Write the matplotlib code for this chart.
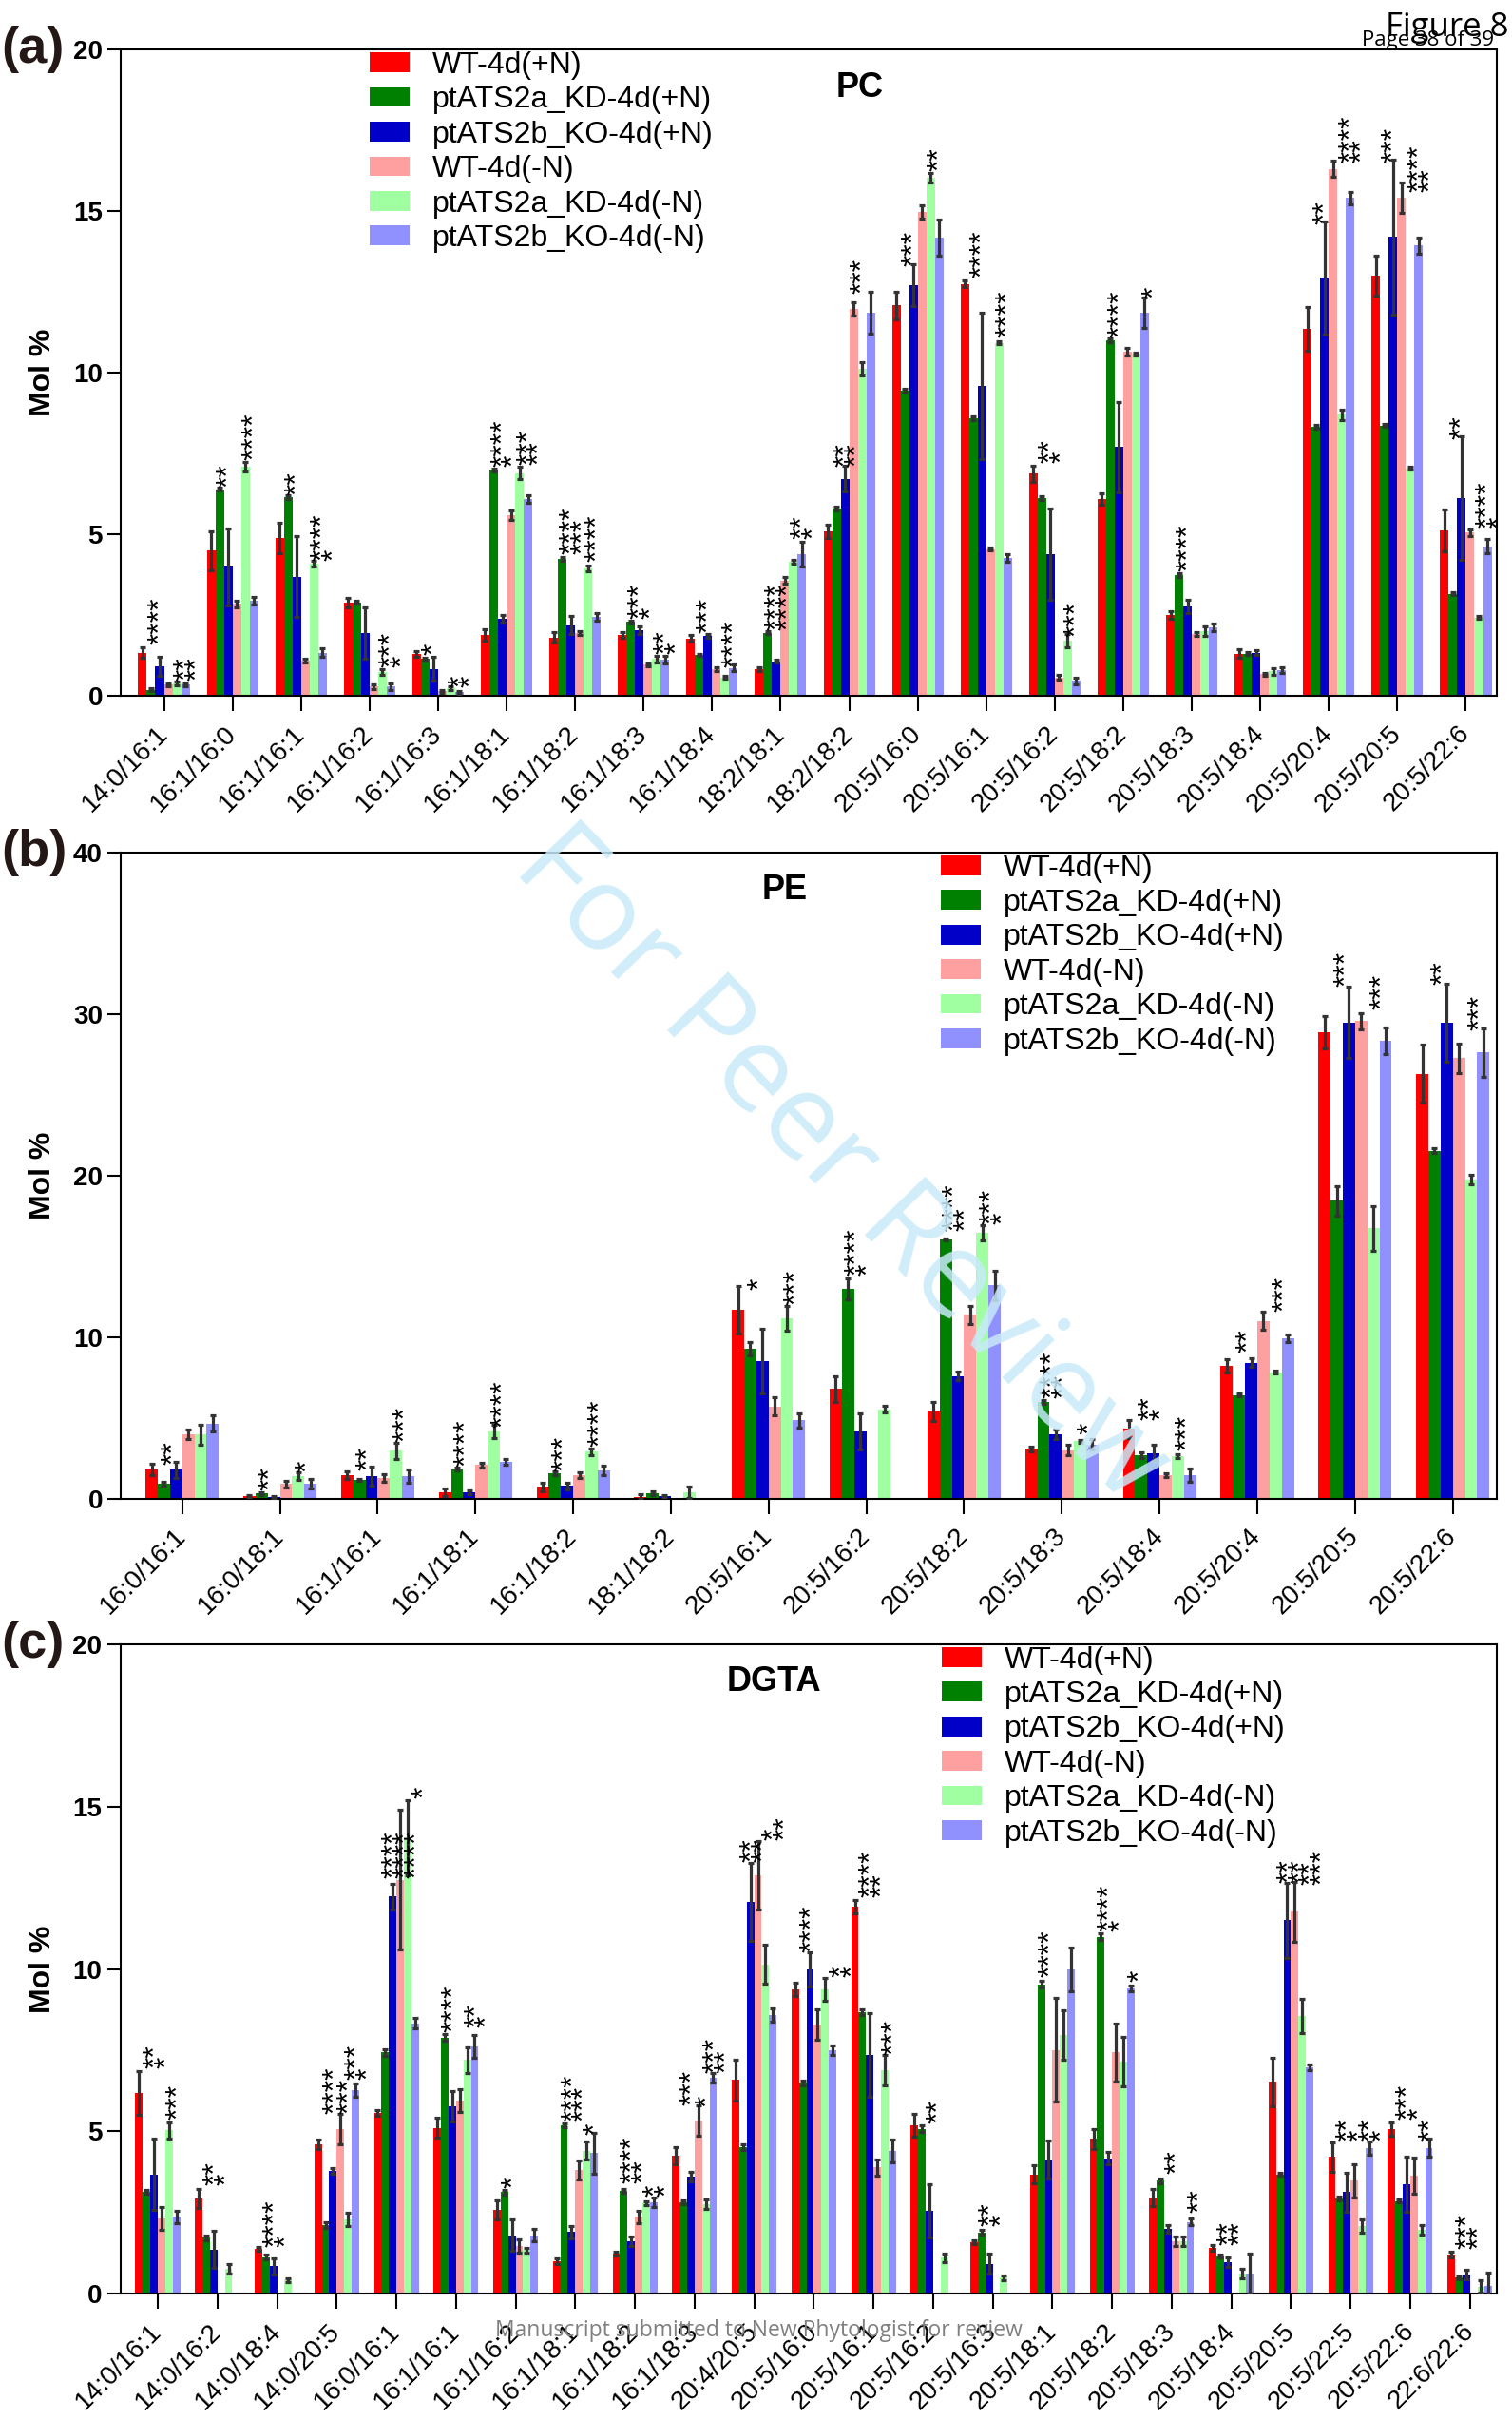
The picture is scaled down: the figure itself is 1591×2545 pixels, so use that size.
import numpy as np
import matplotlib.pyplot as plt
from matplotlib.transforms import ScaledTranslation

plt.rcParams['font.family'] = ['Liberation Sans', 'DejaVu Sans']

nan = np.nan
series = ['WT-4d(+N)', 'ptATS2a_KD-4d(+N)', 'ptATS2b_KO-4d(+N)',
          'WT-4d(-N)', 'ptATS2a_KD-4d(-N)', 'ptATS2b_KO-4d(-N)']
colors = ['#ff0000', '#008000', '#0000c8', '#ffa0a0', '#a0ffa0', '#9090ff']

# ---------------- (a) PC ----------------
pc_species = ['14:0/16:1', '16:1/16:0', '16:1/16:1', '16:1/16:2', '16:1/16:3',
              '16:1/18:1', '16:1/18:2', '16:1/18:3', '16:1/18:4', '18:2/18:1',
              '18:2/18:2', '20:5/16:0', '20:5/16:1', '20:5/16:2', '20:5/18:2',
              '20:5/18:3', '20:5/18:4', '20:5/20:4', '20:5/20:5', '20:5/22:6']
pc_wt_pn = [1.35, 4.5, 4.9, 2.9, 1.3, 1.9, 1.82, 1.9, 1.78, 0.84, 5.1, 12.08, 12.75, 6.88, 6.1, 2.5, 1.32, 11.36, 13.0, 5.13]
pc_kd_pn = [0.2, 6.4, 6.15, 2.9, 1.15, 7.0, 4.25, 2.3, 1.28, 1.96, 5.8, 9.45, 8.6, 6.13, 11.0, 3.75, 1.32, 8.33, 8.37, 3.17]
pc_ko_pn = [0.92, 4.0, 3.7, 1.95, 0.85, 2.4, 2.2, 2.05, 1.86, 1.08, 6.72, 12.7, 9.6, 4.39, 7.7, 2.77, 1.35, 12.93, 14.2, 6.13]
pc_wt_mn = [0.36, 2.85, 1.1, 0.3, 0.15, 5.6, 1.95, 0.97, 0.84, 3.58, 11.97, 14.98, 4.55, 0.58, 10.66, 1.92, 0.68, 16.3, 15.4, 5.06]
pc_kd_mn = [0.4, 7.1, 4.1, 0.75, 0.25, 6.9, 3.95, 1.15, 0.58, 4.16, 10.12, 16.02, 10.93, 1.71, 10.58, 2.02, 0.77, 8.7, 7.05, 2.43]
pc_ko_mn = [0.36, 2.95, 1.35, 0.3, 0.12, 6.1, 2.45, 1.12, 0.88, 4.39, 11.85, 14.17, 4.28, 0.47, 11.85, 2.12, 0.81, 15.4, 13.93, 4.64]
pc_wt_pn_err = [0.17, 0.6, 0.47, 0.15, 0.08, 0.18, 0.15, 0.08, 0.1, 0.05, 0.2, 0.42, 0.1, 0.25, 0.18, 0.12, 0.12, 0.67, 0.62, 0.64]
pc_kd_pn_err = [0.05, 0.05, 0.05, 0.05, 0.04, 0.05, 0.05, 0.04, 0.04, 0.05, 0.05, 0.05, 0.05, 0.05, 0.05, 0.05, 0.05, 0.05, 0.05, 0.05]
pc_ko_pn_err = [0.3, 1.2, 1.25, 0.8, 0.37, 0.12, 0.27, 0.12, 0.06, 0.05, 0.4, 0.65, 2.26, 1.4, 1.4, 0.2, 0.06, 1.75, 2.4, 1.9]
pc_wt_mn_err = [0.05, 0.1, 0.07, 0.08, 0.05, 0.15, 0.07, 0.04, 0.05, 0.1, 0.2, 0.2, 0.05, 0.08, 0.12, 0.05, 0.05, 0.25, 0.47, 0.1]
pc_kd_mn_err = [0.05, 0.15, 0.1, 0.1, 0.05, 0.2, 0.1, 0.1, 0.05, 0.05, 0.2, 0.15, 0.05, 0.2, 0.05, 0.15, 0.1, 0.15, 0.05, 0.05]
pc_ko_mn_err = [0.05, 0.12, 0.13, 0.1, 0.05, 0.12, 0.12, 0.12, 0.1, 0.38, 0.64, 0.56, 0.12, 0.1, 0.47, 0.12, 0.08, 0.2, 0.25, 0.22]
# (category, bar slot, y, asterisks; '\n' separates columns)
pc_stars = [(0, 1, 1.6, '****'), (0, 4, 0.47, '**\n**'), (1, 1, 6.45, '**'), (1, 4, 7.3, '****'),
            (2, 1, 6.2, '**'), (2, 4, 4.2, '****\n*'), (3, 4, 0.9, '***\n*'), (4, 1, 1.28, '*'),
            (4, 4, 0.28, '*\n*'), (5, 1, 7.1, '****\n*'), (5, 4, 7.15, '***\n**'),
            (6, 1, 4.4, '****\n***'), (6, 4, 4.15, '****'), (7, 1, 2.4, '***\n*'), (7, 4, 1.3, '**\n*'),
            (8, 1, 1.95, '***'), (8, 4, 0.9, '****'), (9, 1, 2.05, '****\n****'), (9, 4, 4.85, '**\n*'),
            (10, 1, 7.1, '**\n**'), (10, 3, 12.45, '***'), (11, 1, 13.3, '***'), (11, 4, 16.25, '**'),
            (12, 1, 12.95, '****'), (12, 4, 11.1, '****'), (13, 1, 7.2, '**\n*'), (13, 4, 1.85, '***'),
            (14, 1, 11.1, '****'), (14, 5, 12.3, '*'), (15, 1, 3.85, '****'), (17, 1, 14.6, '**'),
            (17, 4, 16.5, '****\n**'), (18, 1, 16.5, '***'), (18, 4, 15.6, '****\n**'),
            (19, 1, 7.95, '**'), (19, 4, 5.2, '****\n*')]

# ---------------- (b) PE ----------------
pe_species = ['16:0/16:1', '16:0/18:1', '16:1/16:1', '16:1/18:1', '16:1/18:2', '18:1/18:2',
              '20:5/16:1', '20:5/16:2', '20:5/18:2', '20:5/18:3', '20:5/18:4', '20:5/20:4',
              '20:5/20:5', '20:5/22:6']
pe_wt_pn = [1.84, 0.19, 1.46, 0.4, 0.73, 0.13, 11.7, 6.8, 5.4, 3.1, 4.32, 8.23, 28.88, 26.29]
pe_kd_pn = [0.94, 0.32, 1.16, 1.84, 1.57, 0.35, 9.28, 13.0, 16.06, 6.0, 2.7, 6.42, 18.43, 21.54]
pe_ko_pn = [1.81, 0.13, 1.4, 0.4, 0.81, 0.19, 8.53, 4.18, 7.6, 3.97, 2.83, 8.42, 29.47, 29.47]
pe_wt_mn = [3.97, 0.92, 1.3, 2.1, 1.46, nan, 5.72, nan, 11.39, 3.02, 1.46, 11.0, 29.55, 27.26]
pe_kd_mn = [3.97, 1.4, 2.97, 4.18, 2.91, 0.4, 11.17, 5.53, 16.46, 3.56, 2.65, 7.83, 16.73, 19.76]
pe_ko_mn = [4.64, 0.92, 1.4, 2.29, 1.78, nan, 4.86, nan, 13.2, 3.37, 1.46, 9.93, 28.34, 27.61]
pe_wt_pn_err = [0.35, 0.05, 0.25, 0.25, 0.25, 0.15, 1.45, 0.8, 0.6, 0.15, 0.55, 0.4, 1.0, 1.8]
pe_kd_pn_err = [0.1, 0.1, 0.05, 0.1, 0.1, 0.1, 0.4, 0.65, 0.05, 0.1, 0.2, 0.1, 0.9, 0.15]
pe_ko_pn_err = [0.5, 0.05, 0.6, 0.1, 0.2, 0.05, 2.0, 1.1, 0.25, 0.3, 0.5, 0.25, 2.2, 2.4]
pe_wt_mn_err = [0.3, 0.2, 0.25, 0.15, 0.2, nan, 0.55, nan, 0.55, 0.3, 0.1, 0.55, 0.5, 0.9]
pe_kd_mn_err = [0.6, 0.25, 0.5, 0.4, 0.2, 0.35, 0.75, 0.2, 0.45, 0.1, 0.1, 0.1, 1.4, 0.3]
pe_ko_mn_err = [0.5, 0.3, 0.4, 0.2, 0.3, nan, 0.45, nan, 0.9, 0.3, 0.4, 0.25, 0.8, 1.5]
pe_stars = [(0, 1, 2.1, '**'), (1, 1, 0.55, '**'), (1, 4, 1.65, '*'), (2, 1, 1.75, '**'),
            (2, 4, 3.55, '***'), (3, 1, 2.0, '****'), (3, 4, 4.4, '****'), (4, 1, 1.7, '***'),
            (4, 4, 3.25, '****'), (6, 1, 12.9, '*'), (6, 4, 12.0, '***'), (7, 1, 13.8, '****\n*'),
            (8, 1, 16.6, '****\n**'), (8, 4, 17.0, '***\n*'), (9, 1, 6.2, '****\n**'), (9, 4, 4.0, '*'),
            (10, 1, 4.85, '**\n*'), (10, 4, 3.0, '***'), (11, 1, 9.05, '**'), (11, 4, 11.6, '***'),
            (12, 1, 31.7, '***'), (12, 4, 30.3, '***'), (13, 1, 31.8, '**'), (13, 4, 29.0, '***')]

# ---------------- (c) DGTA ----------------
dg_species = ['14:0/16:1', '14:0/16:2', '14:0/18:4', '14:0/20:5', '16:0/16:1', '16:1/16:1',
              '16:1/16:2', '16:1/18:1', '16:1/18:2', '16:1/18:3', '20:4/20:5', '20:5/16:0',
              '20:5/16:1', '20:5/16:2', '20:5/16:3', '20:5/18:1', '20:5/18:2', '20:5/18:3',
              '20:5/18:4', '20:5/20:5', '20:5/22:5', '20:5/22:6', '22:6/22:6']
dg_wt_pn = [6.19, 2.94, 1.39, 4.61, 5.57, 5.11, 2.59, 1.0, 1.24, 4.26, 6.58, 9.37, 11.92, 5.19, 1.59, 3.68, 4.77, 2.97, 1.42, 6.53, 4.21, 5.08, 1.21]
dg_kd_pn = [3.14, 1.73, 1.13, 2.12, 7.43, 7.89, 3.13, 5.19, 3.17, 2.82, 4.52, 6.5, 8.67, 5.08, 1.89, 9.52, 10.99, 3.48, 1.16, 3.68, 2.94, 2.86, 0.5]
dg_ko_pn = [3.68, 1.36, 0.85, 3.78, 12.23, 5.77, 1.81, 1.9, 1.63, 3.61, 12.07, 9.98, 7.35, 2.55, 0.93, 4.13, 4.18, 2.01, 0.98, 11.5, 3.13, 3.37, 0.59]
dg_wt_mn = [2.32, nan, nan, 5.08, 12.74, 5.96, 1.47, 3.82, 2.37, 5.34, 12.88, 8.28, 3.9, nan, nan, 7.51, 7.43, 1.63, nan, 11.76, 3.48, 3.64, nan]
dg_kd_mn = [5.03, 0.77, 0.42, 2.29, 14.04, 7.2, 1.35, 4.41, 2.79, 2.76, 10.14, 9.37, 6.89, 1.11, 0.5, 7.97, 7.15, 1.63, 0.62, 8.56, 2.09, 1.97, 0.23]
dg_ko_mn = [2.37, nan, nan, 6.27, 8.33, 7.62, 1.81, 4.33, 2.83, 6.66, 8.59, 7.51, 4.41, nan, nan, 9.98, 9.4, 2.21, 0.62, 6.97, 4.49, 4.49, 0.26]
dg_wt_pn_err = [0.67, 0.3, 0.07, 0.15, 0.1, 0.3, 0.3, 0.08, 0.07, 0.27, 0.62, 0.2, 0.2, 0.35, 0.07, 0.28, 0.3, 0.27, 0.08, 0.75, 0.45, 0.2, 0.08]
dg_kd_pn_err = [0.05, 0.07, 0.07, 0.08, 0.1, 0.1, 0.07, 0.05, 0.07, 0.05, 0.08, 0.07, 0.1, 0.1, 0.07, 0.1, 0.1, 0.08, 0.05, 0.05, 0.05, 0.05, 0.05]
dg_ko_pn_err = [1.1, 0.57, 0.25, 0.08, 0.4, 0.47, 0.47, 0.2, 0.15, 0.15, 1.2, 0.52, 1.28, 0.82, 0.3, 0.58, 0.2, 0.12, 0.15, 1.15, 0.6, 0.85, 0.15]
dg_wt_mn_err = [0.35, nan, nan, 0.47, 2.15, 0.35, 0.2, 0.3, 0.2, 0.47, 1.05, 0.47, 0.25, nan, nan, 1.6, 0.9, 0.15, nan, 0.93, 0.5, 0.55, nan]
dg_kd_mn_err = [0.25, 0.15, 0.07, 0.2, 1.15, 0.4, 0.07, 0.27, 0.07, 0.15, 0.6, 0.35, 0.47, 0.12, 0.07, 0.76, 0.75, 0.15, 0.15, 0.52, 0.2, 0.15, 0.2]
dg_ko_mn_err = [0.2, nan, nan, 0.2, 0.15, 0.35, 0.2, 0.62, 0.15, 0.15, 0.2, 0.15, 0.35, nan, nan, 0.67, 0.1, 0.1, 0.62, 0.08, 0.2, 0.28, 0.4]
dg_stars = [(0, 1, 6.95, '**\n*'), (0, 4, 5.35, '***'), (1, 1, 3.35, '**\n*'), (2, 1, 1.45, '****\n*'),
            (3, 1, 5.55, '****'), (3, 3, 5.55, '***'), (3, 4, 6.6, '***\n*'),
            (4, 1, 12.8, '****\n****\n****'), (4, 5, 15.25, '*'), (5, 1, 8.05, '****'),
            (5, 4, 8.2, '**\n*'), (6, 1, 3.25, '*'), (7, 1, 5.3, '****\n***'), (7, 4, 4.9, '*'),
            (8, 1, 3.4, '****\n**'), (8, 4, 3.0, '*\n*'), (9, 1, 5.8, '***'), (9, 3, 5.75, '*'),
            (9, 4, 6.8, '***\n**'), (10, 1, 13.3, '**\n**'), (10, 4, 13.95, '*\n**'),
            (11, 1, 10.5, '****'), (11, 5, 9.75, '*\n*'), (12, 1, 12.2, '****\n**'), (12, 4, 7.35, '***'),
            (13, 2, 5.25, '**'), (14, 1, 2.1, '**\n*'), (15, 1, 9.75, '****'), (16, 1, 11.15, '****\n*'),
            (16, 5, 9.6, '*'), (17, 2, 3.7, '**'), (17, 5, 2.5, '**'), (18, 1, 1.5, '**\n**'),
            (19, 1, 12.65, '**\n**'), (19, 4, 12.6, '**\n***'), (20, 1, 4.7, '**\n*'), (20, 4, 4.7, '**\n*'),
            (21, 1, 5.35, '***\n*'), (21, 4, 4.7, '**'), (22, 1, 1.4, '***\n**')]

fig = plt.figure(figsize=(15.91, 25.45), dpi=100)
bw = 0.125


def draw_panel(ax, species, means, errs, stars, ymax, yticks, title, title_xy, leg_x):
    x = np.arange(len(species))
    for i, (m, e) in enumerate(zip(means, errs)):
        pos = x + (i - 2.5) * bw
        ax.bar(pos, m, width=bw, color=colors[i], label=series[i], zorder=2)
        ax.errorbar(pos, m, yerr=e, fmt='none', ecolor='#333333', elinewidth=2.3,
                    capsize=2.3, capthick=2.3, zorder=3)
    fs = 23
    for g, s, y, txt in stars:
        for k, col in enumerate(txt.split('\n')):
            off = ScaledTranslation((0.58 * fs + 8.5 * k) / 72, 0, fig.dpi_scale_trans)
            ax.text(g + (s - 2.5) * bw, y, col, rotation=90, rotation_mode='anchor',
                    ha='left', va='baseline', fontsize=fs, transform=ax.transData + off, zorder=4)
    ax.set_xlim(-0.625, len(species) - 1 + 0.45)
    ax.set_ylim(0, ymax)
    ax.set_yticks(yticks)
    ax.set_yticklabels([str(t) for t in yticks], fontsize=20, fontweight='bold')
    ax.set_xticks(x)
    ax.set_xticklabels(species, rotation=45, ha='right', va='center',
                       rotation_mode='anchor', fontsize=20)
    ax.tick_params(axis='x', length=11.5, width=1.5, pad=14)
    ax.tick_params(axis='y', length=10, width=1.5, pad=4)
    for sp in ax.spines.values():
        sp.set_linewidth(1.5)
    ax.set_ylabel('Mol %', fontsize=23, fontweight='bold', labelpad=12)
    ax.text(title_xy[0], title_xy[1], title, transform=ax.transAxes, ha='center', va='center',
            fontsize=26, fontweight='bold')
    ax.legend(loc='upper left', bbox_to_anchor=(leg_x, 0.997), frameon=False, fontsize=23,
              handlelength=1.3, handleheight=0.62, handletextpad=0.75, labelspacing=0.2,
              borderpad=0, borderaxespad=0)


ax_a = fig.add_axes([0.0801, 0.7122, 0.9098, 0.2674])
draw_panel(ax_a, pc_species,
           [pc_wt_pn, pc_kd_pn, pc_ko_pn, pc_wt_mn, pc_kd_mn, pc_ko_mn],
           [pc_wt_pn_err, pc_kd_pn_err, pc_ko_pn_err, pc_wt_mn_err, pc_kd_mn_err, pc_ko_mn_err],
           pc_stars, 20, [0, 5, 10, 15, 20], 'PC', (0.537, 0.941), 0.181)

ax_b = fig.add_axes([0.0801, 0.3804, 0.9098, 0.2673])
draw_panel(ax_b, pe_species,
           [pe_wt_pn, pe_kd_pn, pe_ko_pn, pe_wt_mn, pe_kd_mn, pe_ko_mn],
           [pe_wt_pn_err, pe_kd_pn_err, pe_ko_pn_err, pe_wt_mn_err, pe_kd_mn_err, pe_ko_mn_err],
           pe_stars, 40, [0, 10, 20, 30, 40], 'PE', (0.482, 0.942), 0.596)

ax_c = fig.add_axes([0.0797, 0.0517, 0.9102, 0.2687])
draw_panel(ax_c, dg_species,
           [dg_wt_pn, dg_kd_pn, dg_ko_pn, dg_wt_mn, dg_kd_mn, dg_ko_mn],
           [dg_wt_pn_err, dg_kd_pn_err, dg_ko_pn_err, dg_wt_mn_err, dg_kd_mn_err, dg_ko_mn_err],
           dg_stars, 20, [0, 5, 10, 15, 20], 'DGTA', (0.475, 0.942), 0.597)

# panel tags
for tag, yy in [('(a)', 0.9796), ('(b)', 0.6477), ('(c)', 0.3204)]:
    fig.text(0.001, yy, tag, fontsize=39, fontweight='bold', color='#231815',
             ha='left', va='center')

# page furniture
fig.text(0.9975, 0.985, 'Figure 8', fontsize=25, family=['Open Sans', 'DejaVu Sans'],
         ha='right', va='baseline')
fig.text(0.988, 0.981, 'Page 38 of 39', fontsize=16, family=['Open Sans', 'DejaVu Sans'],
         ha='right', va='baseline')
fig.text(0.502, 0.0365, 'Manuscript submitted to New Phytologist for review', fontsize=16.5,
         family=['Open Sans', 'DejaVu Sans'], color='#808080', ha='center', va='center')
fig.text(0.556, 0.518, 'For Peer Review', fontsize=90, family=['Open Sans', 'DejaVu Sans'],
         color='#c8eaf9', alpha=0.85, rotation=-46, ha='center', va='center', zorder=10)

fig.savefig('out.png', dpi=100)
